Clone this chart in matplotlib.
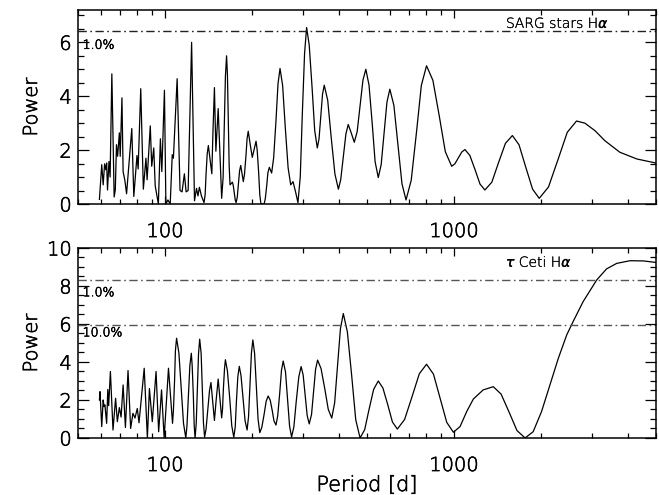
import numpy as np
import matplotlib
matplotlib.use("Agg")
import matplotlib.pyplot as plt
import matplotlib.patheffects as pe
from matplotlib.text import Text
from matplotlib.ticker import FixedLocator, LogLocator, MultipleLocator, NullFormatter
import matplotlib.transforms as mtransforms

plt.rcParams['font.family'] = ['DejaVu Sans']
plt.rcParams['font.weight'] = 200
plt.rcParams['axes.labelweight'] = 200
plt.rcParams['mathtext.fontset'] = 'dejavusans'

# ---------------- data ----------------
# log10 of period [d] and periodogram power, SARG stars H-alpha
top_log_period = np.array([
    1.773, 1.781, 1.786, 1.791, 1.795, 1.798, 1.801, 1.806, 1.810, 1.816,
    1.824, 1.828, 1.832, 1.836, 1.842, 1.845, 1.851, 1.855, 1.861, 1.867,
    1.885, 1.892, 1.903, 1.907, 1.916, 1.925, 1.934, 1.938, 1.949, 1.954,
    1.961, 1.966, 1.977, 1.984, 1.989, 1.998, 2.003, 2.010, 2.018, 2.025,
    2.029, 2.042, 2.052, 2.059, 2.067, 2.073, 2.080, 2.092, 2.102, 2.109,
    2.114, 2.119, 2.126, 2.135, 2.139, 2.142, 2.146, 2.150, 2.156, 2.162,
    2.166, 2.171, 2.176, 2.184, 2.190, 2.196, 2.201, 2.205, 2.209, 2.213,
    2.216, 2.219, 2.222, 2.225, 2.233, 2.236, 2.243, 2.246, 2.250, 2.254,
    2.258, 2.262, 2.271, 2.275, 2.280, 2.284, 2.288, 2.295, 2.302, 2.315,
    2.319, 2.324, 2.328, 2.332, 2.343, 2.347, 2.352, 2.356, 2.361, 2.369,
    2.376, 2.384, 2.391, 2.398, 2.407, 2.416, 2.426, 2.435, 2.443, 2.452,
    2.460, 2.468, 2.475, 2.483, 2.490, 2.499, 2.509, 2.518, 2.527, 2.533,
    2.539, 2.545, 2.551, 2.563, 2.575, 2.588, 2.600, 2.608, 2.617, 2.626,
    2.634, 2.645, 2.655, 2.665, 2.675, 2.685, 2.695, 2.706, 2.717, 2.727,
    2.738, 2.748, 2.758, 2.768, 2.778, 2.792, 2.806, 2.820, 2.834, 2.852,
    2.870, 2.887, 2.905, 2.927, 2.949, 2.970, 2.992, 3.003, 3.015, 3.027,
    3.038, 3.055, 3.073, 3.090, 3.107, 3.131, 3.154, 3.178, 3.202, 3.225,
    3.248, 3.272, 3.295, 3.327, 3.360, 3.392, 3.424, 3.453, 3.488, 3.522,
    3.574, 3.633, 3.699,
])
top_power = np.array([
    0.17, 1.46, 0.71, 1.49, 1.27, 1.52, 0.52, 1.58, 1.00, 4.83,
    0.26, 0.53, 2.20, 1.77, 2.64, 1.77, 3.94, 1.20, 0.88, 0.38,
    2.80, 0.28, 1.80, 1.30, 4.28, 0.55, 1.70, 0.90, 2.90, 1.40,
    2.08, 0.68, 0.00, 2.42, 1.20, 4.22, 0.00, 0.15, 0.00, 1.83,
    1.70, 4.65, 0.50, 0.45, 1.12, 0.45, 0.50, 6.00, 0.12, 0.58,
    0.30, 0.62, 0.30, 0.05, 0.36, 1.11, 1.86, 2.17, 1.65, 1.12,
    2.72, 4.32, 1.96, 3.54, 1.88, 0.21, 0.98, 2.86, 4.73, 5.50,
    4.80, 3.10, 1.41, 0.71, 0.81, 0.70, 0.15, 0.05, 0.25, 0.74,
    1.23, 1.43, 0.83, 1.10, 1.77, 2.43, 2.70, 2.20, 1.73, 2.33,
    2.00, 1.17, 0.34, 0.00, 0.00, 0.20, 0.68, 1.16, 1.36, 1.15,
    1.72, 3.09, 4.46, 5.03, 4.40, 2.87, 1.34, 0.71, 0.83, 0.44,
    0.05, 1.00, 3.30, 5.60, 6.55, 5.90, 4.31, 2.73, 2.08, 2.42,
    3.25, 4.07, 4.41, 3.85, 2.48, 1.11, 0.55, 0.90, 1.75, 2.60,
    2.95, 2.62, 2.29, 2.69, 3.65, 4.60, 5.00, 4.41, 2.99, 1.57,
    0.98, 1.46, 2.62, 3.78, 4.26, 3.66, 2.21, 0.75, 0.15, 0.88,
    2.64, 4.40, 5.13, 4.59, 3.27, 1.94, 1.40, 1.49, 1.71, 1.93,
    2.02, 1.80, 1.27, 0.74, 0.52, 0.81, 1.53, 2.25, 2.54, 2.20,
    1.38, 0.55, 0.21, 0.63, 1.65, 2.66, 3.08, 3.00, 2.72, 2.35,
    1.92, 1.67, 1.52,
])

# log10 of period [d] and periodogram power, tau Ceti H-alpha
bot_log_period = np.array([
    1.773, 1.775, 1.781, 1.786, 1.789, 1.792, 1.798, 1.802, 1.805, 1.811,
    1.820, 1.829, 1.835, 1.842, 1.848, 1.855, 1.863, 1.872, 1.881, 1.889,
    1.896, 1.904, 1.910, 1.928, 1.939, 1.946, 1.956, 1.969, 1.978, 1.988,
    1.997, 2.012, 2.019, 2.026, 2.029, 2.033, 2.036, 2.040, 2.048, 2.056,
    2.064, 2.072, 2.076, 2.081, 2.086, 2.091, 2.094, 2.098, 2.101, 2.104,
    2.108, 2.112, 2.116, 2.120, 2.125, 2.129, 2.133, 2.137, 2.142, 2.148,
    2.154, 2.159, 2.165, 2.171, 2.177, 2.184, 2.190, 2.196, 2.199, 2.202,
    2.206, 2.209, 2.216, 2.224, 2.231, 2.238, 2.243, 2.247, 2.252, 2.257,
    2.263, 2.270, 2.277, 2.284, 2.289, 2.294, 2.299, 2.304, 2.310, 2.316,
    2.322, 2.328, 2.335, 2.343, 2.350, 2.357, 2.364, 2.371, 2.377, 2.384,
    2.390, 2.397, 2.403, 2.409, 2.417, 2.424, 2.431, 2.438, 2.446, 2.454,
    2.463, 2.471, 2.478, 2.485, 2.492, 2.499, 2.507, 2.514, 2.521, 2.528,
    2.540, 2.553, 2.565, 2.577, 2.587, 2.597, 2.607, 2.617, 2.631, 2.646,
    2.660, 2.675, 2.691, 2.706, 2.722, 2.738, 2.754, 2.771, 2.787, 2.804,
    2.829, 2.855, 2.880, 2.905, 2.929, 2.952, 2.975, 2.998, 3.021, 3.044,
    3.067, 3.101, 3.136, 3.163, 3.191, 3.218, 3.246, 3.274, 3.303, 3.332,
    3.361, 3.390, 3.413, 3.447, 3.494, 3.528, 3.563, 3.609, 3.655, 3.699,
])
bot_power = np.array([
    2.00, 2.44, 0.60, 2.00, 1.65, 1.74, 0.77, 2.55, 1.70, 3.50,
    0.42, 2.09, 0.86, 1.60, 1.10, 2.79, 0.55, 3.55, 0.50, 1.30,
    1.05, 1.55, 0.80, 3.67, 0.00, 2.60, 0.86, 3.50, 0.33, 2.53,
    0.00, 3.67, 2.20, 0.77, 1.42, 3.00, 4.60, 5.25, 4.48, 2.63,
    0.77, 0.00, 0.65, 2.23, 3.81, 4.46, 3.81, 2.23, 0.65, 0.00,
    0.76, 2.60, 4.44, 5.20, 4.45, 2.63, 0.80, 0.05, 0.47, 1.49,
    2.50, 2.92, 1.92, 0.92, 2.00, 3.10, 2.08, 1.06, 1.51, 2.59,
    3.67, 4.12, 3.52, 2.08, 0.64, 0.04, 0.58, 1.90, 3.23, 3.77,
    3.28, 2.10, 0.91, 0.42, 1.11, 2.79, 4.47, 5.16, 4.45, 2.72,
    0.99, 0.28, 0.56, 1.25, 1.93, 2.21, 1.99, 1.45, 0.90, 0.68,
    1.17, 2.37, 3.56, 4.05, 3.47, 2.05, 0.63, 0.05, 0.59, 1.91,
    3.22, 3.76, 3.32, 2.25, 1.18, 0.74, 1.23, 2.42, 3.61, 4.10,
    3.65, 2.58, 1.50, 1.05, 1.85, 3.80, 5.75, 6.55, 5.59, 3.28,
    0.96, 0.00, 0.44, 1.50, 2.56, 3.00, 2.63, 1.74, 0.84, 0.47,
    0.97, 2.18, 3.38, 3.88, 3.36, 2.09, 0.82, 0.30, 0.60, 1.39,
    2.05, 2.53, 2.70, 2.31, 1.35, 0.39, 0.00, 0.33, 1.39, 2.79,
    4.19, 5.42, 6.15, 7.18, 8.32, 8.90, 9.19, 9.33, 9.32, 9.24,
])

top_levels = [6.43]
top_level_labels = ["1.0%"]
top_level_label_y = [5.91]
bot_levels = [8.34, 5.97]
bot_level_labels = ["1.0%", "10.0%"]
bot_level_label_y = [7.67, 5.56]

x_major = [100, 1000]
x_major_labels = ["100", "1000"]
panel_titles = ["SARG stars H$\\alpha$", "$\\tau$ Ceti H$\\alpha$"]

# ---------------- figure ----------------
fig = plt.figure(figsize=(6.59, 4.95), dpi=100)
ax1 = fig.add_axes([0.1184, 0.5879, 0.877, 0.3919])
ax2 = fig.add_axes([0.1184, 0.1152, 0.877, 0.3838])

def style(ax, ymax):
    ax.set_xscale('log')
    ax.set_xlim(50, 5000)
    ax.set_ylim(0, ymax)
    ax.xaxis.set_major_locator(FixedLocator(x_major))
    ax.set_xticklabels(x_major_labels)
    ax.xaxis.set_minor_locator(LogLocator(base=10, subs=np.arange(2, 10)))
    ax.xaxis.set_minor_formatter(NullFormatter())
    ax.yaxis.set_major_locator(MultipleLocator(2))
    ax.yaxis.set_minor_locator(MultipleLocator(0.5))
    ax.tick_params(which='both', direction='in', top=True, right=True,
                   width=0.9, color='black')
    ax.tick_params(axis='x', which='major', length=6, pad=13, labelsize=14)
    ax.tick_params(axis='x', which='minor', length=3.5)
    ax.tick_params(axis='y', which='major', length=8, pad=4.5, labelsize=14)
    ax.tick_params(axis='y', which='minor', length=4.5)
    for s in ax.spines.values():
        s.set_linewidth(1.1)
    ax.set_ylabel('Power', fontsize=14)
    ax.yaxis.set_label_coords(-0.064, 0.5)

style(ax1, 7.2)
style(ax2, 10)

dash = (0, (6, 2.5, 1.2, 2.5))
ax1.plot(10 ** top_log_period, top_power, color='black', lw=0.9)
for lev, lab, ly in zip(top_levels, top_level_labels, top_level_label_y):
    ax1.axhline(lev, color='#222222', lw=1.0, linestyle=dash)
    tr = mtransforms.blended_transform_factory(ax1.transAxes, ax1.transData)
    ax1.text(0.008, ly, lab, transform=tr, fontsize=9, ha='left', va='center')

ax2.plot(10 ** bot_log_period, bot_power, color='black', lw=0.9)
for lev, lab, ly in zip(bot_levels, bot_level_labels, bot_level_label_y):
    ax2.axhline(lev, color='#555555', lw=1.0, linestyle=dash)
    tr = mtransforms.blended_transform_factory(ax2.transAxes, ax2.transData)
    ax2.text(0.008, ly, lab, transform=tr, fontsize=9, ha='left', va='center')

t1 = ax1.text(0.7405, 0.928, panel_titles[0], transform=ax1.transAxes,
              fontsize=10, ha='left', va='center')
t2 = ax2.text(0.7405, 0.925, panel_titles[1], transform=ax2.transAxes,
              fontsize=10, ha='left', va='center')

ax2.set_xlabel('Period [d]', fontsize=15)
ax2.xaxis.set_label_coords(0.5, -0.195)

# darken the thin glyph outlines slightly
fig.canvas.draw()
for t in fig.findobj(Text):
    t.set_path_effects([pe.withStroke(linewidth=0.45, foreground='black')])
for t in (t1, t2):
    t.set_path_effects([pe.withStroke(linewidth=0.2, foreground='black')])

fig.savefig('out.png', dpi=100)
